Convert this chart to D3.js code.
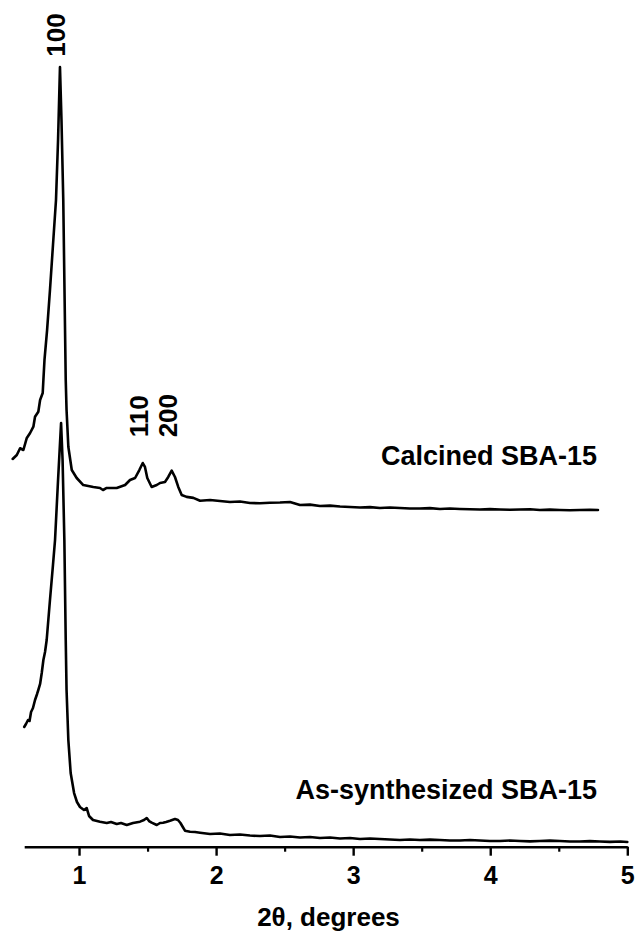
<!DOCTYPE html>
<html>
<head>
<meta charset="utf-8">
<script src="https://cdn.jsdelivr.net/npm/d3@7"></script>
<style>
  html, body { margin: 0; padding: 0; background: #fff; }
  svg { display: block; }
  text { font-family: Arial, "Liberation Sans", sans-serif; font-weight: bold; fill: #000; }
</style>
</head>
<body>
<svg id="chart" width="636" height="937"></svg>
<script>
// Low-angle XRD patterns of SBA-15 (intensity in arbitrary units)

// As-synthesized SBA-15
const asSynthAngle = [
  0.600, 0.613, 0.628, 0.639, 0.650, 0.664, 0.679, 0.694, 0.703, 0.716,
  0.728, 0.740, 0.752, 0.764, 0.788, 0.810, 0.825, 0.847, 0.869, 0.880,
  0.893, 0.903, 0.909, 0.922, 0.939, 0.964, 0.985, 1.007, 1.036, 1.056,
  1.073, 1.102, 1.153, 1.202, 1.233, 1.275, 1.306, 1.348, 1.394, 1.445,
  1.474, 1.494, 1.511, 1.530, 1.567, 1.591, 1.613, 1.635, 1.664, 1.700,
  1.722, 1.740, 1.756, 1.773, 1.810, 1.846, 1.883, 1.956, 2.028, 2.101,
  2.174, 2.247, 2.320, 2.393, 2.466, 2.539, 2.612, 2.685, 2.758, 2.831,
  2.904, 2.977, 3.050, 3.123, 3.195, 3.268, 3.341, 3.414, 3.487, 3.560,
  3.633, 3.706, 3.779, 3.852, 3.925, 3.998, 4.071, 4.144, 4.217, 4.290,
  4.362, 4.435, 4.508, 4.581, 4.654, 4.727, 4.800, 4.873, 4.950, 5.000
];
const asSynthIntensity = [
  153.5, 157.3, 162.4, 161.2, 172.7, 177.8, 188.1, 195.8, 200.9, 208.6,
  222.7, 239.4, 249.6, 265.0, 316.3, 361.2, 393.2, 470.1, 543.2, 495.8,
  393.2, 265.0, 200.9, 136.8, 94.5, 68.8, 57.3, 50.9, 47.1, 49.6,
  39.4, 34.2, 32.1, 30.4, 31.7, 29.1, 30.4, 27.8, 30.4, 32.1,
  34.2, 36.8, 32.9, 30.8, 27.8, 30.4, 30.8, 31.7, 33.3, 35.5,
  34.2, 30.4, 25.6, 20.5, 19.2, 18.8, 17.9, 16.3, 16.9, 15.0,
  15.6, 14.3, 13.7, 14.4, 12.4, 13.0, 11.8, 12.5, 11.2, 11.8,
  10.5, 11.1, 9.9, 10.6, 9.9, 9.2, 8.6, 9.3, 8.6, 9.1,
  8.6, 8.0, 7.9, 8.5, 7.9, 7.4, 7.3, 7.9, 7.3, 6.8,
  7.3, 7.8, 7.3, 6.7, 6.7, 7.2, 6.7, 6.2, 6.6, 6.0
];

// Calcined SBA-15 (drawn with a vertical offset above the as-synthesized pattern)
const calcinedAngle = [
  0.516, 0.546, 0.570, 0.594, 0.619, 0.643, 0.667, 0.679, 0.703, 0.716,
  0.735, 0.740, 0.748, 0.767, 0.788, 0.810, 0.832, 0.847, 0.861, 0.872,
  0.885, 0.903, 0.909, 0.922, 0.947, 0.983, 1.031, 1.104, 1.153, 1.175,
  1.202, 1.275, 1.336, 1.372, 1.409, 1.440, 1.465, 1.481, 1.498, 1.530,
  1.567, 1.591, 1.627, 1.651, 1.676, 1.700, 1.724, 1.749, 1.785, 1.834,
  1.883, 1.956, 2.028, 2.101, 2.174, 2.247, 2.320, 2.393, 2.466, 2.539,
  2.612, 2.685, 2.758, 2.831, 2.904, 2.977, 3.050, 3.123, 3.195, 3.268,
  3.341, 3.414, 3.487, 3.560, 3.633, 3.706, 3.779, 3.852, 3.925, 3.998,
  4.071, 4.144, 4.217, 4.290, 4.362, 4.435, 4.508, 4.581, 4.654, 4.727,
  4.786
];
const calcinedIntensity = [
  77.1, 82.2, 90.8, 88.6, 104.0, 110.4, 118.5, 131.3, 137.7, 152.7,
  161.7, 178.3, 204.0, 242.4, 293.7, 351.4, 409.1, 486.0, 579.6, 511.7,
  409.1, 178.3, 139.9, 92.8, 62.9, 52.7, 43.7, 41.2, 39.9, 37.3,
  39.9, 39.9, 43.7, 50.1, 52.7, 62.9, 71.9, 66.8, 52.7, 41.2,
  43.7, 46.3, 47.6, 54.0, 62.1, 54.0, 41.2, 31.0, 28.5, 27.2,
  23.6, 24.5, 23.2, 21.9, 22.5, 20.6, 20.3, 21.0, 21.3, 21.9,
  18.1, 18.6, 16.8, 17.3, 16.2, 15.6, 14.9, 15.4, 14.2, 14.8,
  14.2, 13.6, 13.6, 14.1, 13.0, 13.5, 13.0, 12.6, 12.3, 12.8,
  12.3, 11.9, 12.3, 12.7, 11.7, 12.1, 11.7, 11.3, 11.7, 12.0,
  11.7
];
const calcinedOffset = 420;

// Axis ticks
const xMajorTicks = [1, 2, 3, 4, 5];
const xMinorTicks = [1.5, 2.5, 3.5, 4.5];
const xTitle = "2\u03B8, degrees";

// Pattern names and reflection indices
const seriesNames = ["Calcined SBA-15", "As-synthesized SBA-15"];
const reflections = [
  { hkl: "100", angle: 0.861, level: 1000 },
  { hkl: "110", angle: 1.465, level: 512 },
  { hkl: "200", angle: 1.676, level: 512 }
];

const svg = d3.select("#chart");

const x = d3.scaleLinear().domain([0.6, 5]).range([24.2, 627.3]);
const y = d3.scaleLinear().domain([0, 1000]).range([846.7, 66.7]);

const line = d3.line()
  .x(d => x(d[0]))
  .y(d => y(d[1]));

const asSynth = asSynthAngle.map((a, i) => [a, asSynthIntensity[i]]);
const calcined = calcinedAngle.map((a, i) => [a, calcinedIntensity[i] + calcinedOffset]);

// Patterns
svg.append("g")
  .selectAll("path")
  .data([calcined, asSynth])
  .join("path")
  .attr("d", line)
  .attr("fill", "none")
  .attr("stroke", "#000")
  .attr("stroke-width", 2.6)
  .attr("stroke-linejoin", "round")
  .attr("stroke-linecap", "round");

// Bottom axis: major ticks with labels
const axisY = y(0);
const gx = svg.append("g")
  .attr("transform", `translate(0,${axisY})`)
  .call(d3.axisBottom(x).tickValues(xMajorTicks).tickFormat(d3.format("d"))
    .tickSize(9).tickSizeOuter(0).tickPadding(11));
gx.select(".domain").attr("stroke", "#000").attr("stroke-width", 2.4);
gx.selectAll(".tick line").attr("stroke", "#000").attr("stroke-width", 2.4);
gx.selectAll(".tick text")
  .attr("font-size", 25)
  .attr("font-family", "Arial, 'Liberation Sans', sans-serif")
  .attr("font-weight", "bold")
  .attr("fill", "#000");

// Minor ticks
const gm = svg.append("g")
  .attr("transform", `translate(0,${axisY})`)
  .call(d3.axisBottom(x).tickValues(xMinorTicks).tickFormat("").tickSize(5).tickSizeOuter(0));
gm.select(".domain").remove();
gm.selectAll(".tick line").attr("stroke", "#000").attr("stroke-width", 2.2);

// Axis title
svg.append("text")
  .attr("x", x(2.82))
  .attr("y", 926)
  .attr("text-anchor", "middle")
  .attr("font-size", 26)
  .text(xTitle);

// Pattern names
const nameLabels = [
  { text: seriesNames[0], yPos: 465 },
  { text: seriesNames[1], yPos: 799 }
];
svg.append("g")
  .selectAll("text")
  .data(nameLabels)
  .join("text")
  .attr("x", x(4.78))
  .attr("y", d => d.yPos)
  .attr("text-anchor", "end")
  .attr("font-size", 27)
  .text(d => d.text);

// Reflection indices, rotated
svg.append("g")
  .selectAll("text")
  .data(reflections)
  .join("text")
  .attr("transform", d => `translate(${x(d.angle) + 5},${y(d.level) - 10}) rotate(-90)`)
  .attr("text-anchor", "start")
  .attr("font-size", 26)
  .text(d => d.hkl);
</script>
</body>
</html>
